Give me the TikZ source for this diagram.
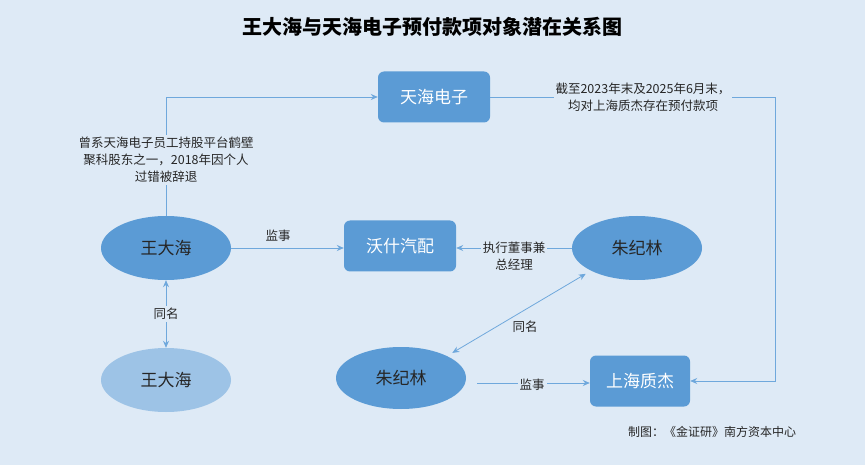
\documentclass[tikz,border=0pt]{standalone}
\usepackage{fontspec}
\setmainfont{Noto Sans CJK SC}
\usetikzlibrary{shapes.geometric,arrows.meta}
\definecolor{bg}{HTML}{DEEAF6}
\definecolor{nb}{HTML}{5B9BD5}
\definecolor{nl}{HTML}{9DC3E6}
\definecolor{ln}{HTML}{6FA8DC}
\begin{document}
\begin{tikzpicture}[x=1pt,y=-1pt,
  box/.style={rectangle,rounded corners=6pt,fill=nb,text=white,minimum width=112pt,minimum height=51pt,font=\fontsize{17}{20}\selectfont},
  ell/.style={ellipse,fill=nb,text=black!85,minimum width=130pt,minimum height=64pt,font=\fontsize{17}{20}\selectfont},
  lab/.style={fill=bg,inner sep=2pt,align=center,text=black!85,font=\fontsize{12.5}{17}\selectfont},
  con/.style={draw=ln,line width=0.8pt,-{Stealth[length=7pt,width=6pt]}},
  dcon/.style={draw=ln,line width=0.8pt,{Stealth[length=7pt,width=6pt]}-{Stealth[length=7pt,width=6pt]}}]
\fill[bg] (0,0) rectangle (865,465);
\useasboundingbox (0,0) rectangle (865,465);
\node[font=\fontsize{20}{24}\selectfont\bfseries] (title) at (432,27) {王大海与天海电子预付款项对象潜在关系图};
\node[box] (th) at (434,97) {天海电子};
\node[box] (wsh) at (400,246) {沃什汽配};
\node[box,minimum width=100pt] (shz) at (640,381) {上海质杰};
\node[ell] (w1) at (166,248) {王大海};
\node[ell] (z1) at (637,248) {朱纪林};
\node[ell,minimum height=62pt] (z2) at (401,378) {朱纪林};
\node[ell,fill=nl] (w2) at (166,380) {王大海};
\coordinate (c1) at (775,97);
\coordinate (c2) at (775,381);
\coordinate (s1) at (477,383);
\draw[con] (w1.north) |- (th.west);
\node[lab] (l1) at (166,160) {曾系天海电子员工持股平台鹤壁\\聚科股东之一，2018年因个人\\过错被辞退};
\draw[con] (th.east) -- (c1) -- (c2) -- (shz.east);
\node[lab] (l2) at (643,97) {截至2023年末及2025年6月末，\\均对上海质杰存在预付款项};
\draw[con] (w1.east) -- (wsh.west |- w1.east);
\node[lab,fill=none] (l3) at (278,236) {监事};
\draw[con] (z1.west) -- (wsh.east |- z1.west);
\node[lab] (l4) at (514,256) {执行董事兼\\总经理};
\draw[dcon] (w1.south) -- (w2.north);
\node[lab] (l5) at (166,314) {同名};
\draw[dcon,shorten <=6pt,shorten >=6pt] (z2.north east) -- (z1.south west);
\node[lab] (l6) at (525,327) {同名};
\draw[con] (s1) -- (shz.west |- s1);
\node[lab] (l7) at (532,385) {监事};
\node[font=\fontsize{12}{14}\selectfont,text=black!85] (src) at (712,432) {制图：《金证研》南方资本中心};
\end{tikzpicture}
\end{document}
